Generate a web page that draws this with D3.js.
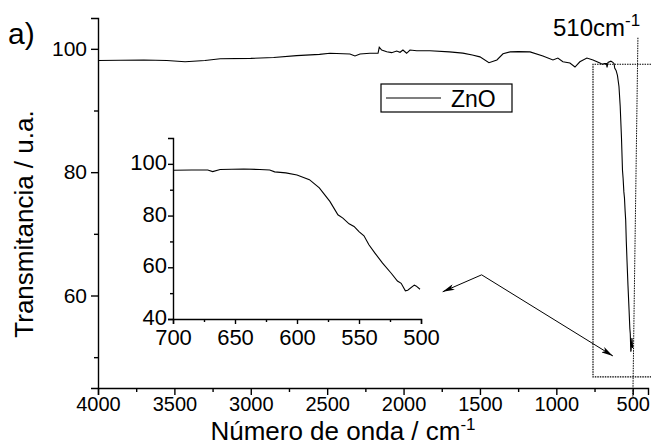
<!DOCTYPE html>
<html lang="en">
<head>
<meta charset="UTF-8">
<title>ZnO FTIR</title>
<script src="https://d3js.org/d3.v7.min.js"></script>
<style>
    body { margin: 0; background: #fff; }
    svg { display: block; font-family: "Liberation Sans", Arial, sans-serif; }
    .axis path, .axis line { stroke: #000; stroke-width: 1.4; }
    .axis text { fill: #000; font-family: "Liberation Sans", Arial, sans-serif; }
</style>
</head>
<body>
<svg id="chart" width="651" height="446"></svg>
<script>
// main spectrum, 4000 -> 715 cm-1
const mainWn = [4000, 3850, 3700, 3550, 3430, 3300, 3200, 3000, 2850, 2700, 2550, 2482, 2351, 2318, 2285, 2220, 2167,
    2159, 2143, 2110, 2078, 2045, 2023, 2004, 1980, 1958, 1914, 1827, 1700, 1612, 1550, 1500, 1441, 1389, 1349,
    1303, 1250, 1172, 1088, 1022, 990, 957, 911, 878, 846, 800, 760, 715];
const mainT = [98.1, 98.15, 98.2, 98.1, 97.9, 98.1, 98.4, 98.45, 98.6, 98.9, 99.1, 99.28, 99.17, 98.84, 99.17, 99.28, 99.28,
    100.25, 99.81, 99.54, 99.38, 99.65, 99.44, 99.81, 99.28, 99.81, 99.7, 99.7, 99.5, 99.3, 99.0, 98.7, 97.75, 98.2, 99.2,
    99.5, 99.55, 99.5, 98.85, 98.2, 98.5, 97.9, 97.7, 97.05, 97.9, 98.5, 98.2, 97.7];

// zoomed region 700 -> 500 cm-1 (also the end of the main trace)
const zoomWn = [700, 685, 672, 668, 662, 643, 630, 622, 618, 609, 600, 590, 582, 573.5, 567, 563, 558, 554, 550,
    546, 542, 537, 531, 524, 519, 516, 512.6, 510.7, 505.4, 504, 500.8];
const zoomT = [97.5, 97.6, 97.6, 97.0, 97.8, 98.0, 97.8, 97.6, 96.9, 96.5, 95.7, 93.9, 90.7, 85.5, 80.3, 79.0, 76.8, 75.8, 73.8,
    72.2, 68.7, 65.4, 61.6, 57.7, 54.7, 53.8, 50.9, 51.1, 53.1, 52.8, 51.5];

const xTicks = [4000, 3500, 3000, 2500, 2000, 1500, 1000, 500];
const xMinor = [3750, 3250, 2750, 2250, 1750, 1250, 750];
const yTicks = [60, 80, 100];
const yMinor = [50, 70, 90];
const inXTicks = [700, 650, 600, 550, 500];
const inXMinor = [675, 625, 575, 525];
const inYTicks = [40, 60, 80, 100];
const inYMinor = [50, 70, 90];

// annotations, in main-plot units
const boxWn = [760, 380], boxT = [46.8, 97.5];
const markWn = [466, 499], markT = [101.8, 43.6];
const arrowFrom = [1489, 63.35];
const arrowTo = [[1744, 60.6], [630, 50.2]];

const svg = d3.select("#chart");
const fmt = d3.format("d");

const x = d3.scaleLinear().domain([4000, 400]).range([98, 648]);
const y = d3.scaleLinear().domain([45, 105]).range([388, 18]);

const line = d3.line().x(d => x(d[0])).y(d => y(d[1]));
const full = mainWn.map((w, i) => [w, mainT[i]]).concat(zoomWn.map((w, i) => [w, zoomT[i]]));

// arrow head
svg.append("defs").append("marker")
    .attr("id", "head").attr("viewBox", "0 0 12 6").attr("refX", 12).attr("refY", 3)
    .attr("markerWidth", 12).attr("markerHeight", 6).attr("markerUnits", "userSpaceOnUse")
    .attr("orient", "auto")
    .append("path").attr("d", "M0,0L12,3L0,6L3,3Z").attr("fill", "#000");

// main axes
svg.append("g").attr("class", "axis").attr("transform", "translate(0,388)")
    .call(d3.axisBottom(x).tickValues(xMinor).tickSize(4).tickFormat(""))
    .call(g => g.select(".domain").remove());
svg.append("g").attr("class", "axis").attr("transform", "translate(0,388)")
    .call(d3.axisBottom(x).tickValues(xTicks).tickFormat(fmt).tickSizeOuter(0).tickSize(7).tickPadding(2))
    .call(g => g.selectAll("text").attr("font-size", 20));
svg.append("g").attr("class", "axis").attr("transform", "translate(98,0)")
    .call(d3.axisLeft(y).tickValues(yMinor).tickSize(4).tickFormat(""))
    .call(g => g.select(".domain").remove());
svg.append("g").attr("class", "axis").attr("transform", "translate(98,0)")
    .call(d3.axisLeft(y).tickValues(yTicks).tickFormat(fmt).tickSizeOuter(0).tickSize(7).tickPadding(4))
    .call(g => g.selectAll("text").attr("font-size", 21));

// dotted frame around 760-400 region and the 510 marker
svg.append("path")
    .attr("d", `M${x(boxWn[1])},${y(boxT[1])}H${x(boxWn[0])}V${y(boxT[0])}H${x(boxWn[1])}`)
    .attr("fill", "none").attr("stroke", "#000").attr("stroke-width", 1.2).attr("stroke-dasharray", "1.5,1");
svg.append("line")
    .attr("x1", x(markWn[0])).attr("y1", y(markT[0])).attr("x2", x(markWn[1])).attr("y2", y(markT[1]))
    .attr("stroke", "#000").attr("stroke-width", 1).attr("stroke-dasharray", "1.5,1");

svg.append("path").datum(full).attr("d", line)
    .attr("fill", "none").attr("stroke", "#000").attr("stroke-width", 1.1);

// inset
const ix = d3.scaleLinear().domain([700, 500]).range([173, 421]);
const iy = d3.scaleLinear().domain([40, 110]).range([319, 138]);
svg.append("g").attr("class", "axis").attr("transform", "translate(0,319)")
    .call(d3.axisBottom(ix).tickValues(inXMinor).tickSize(3).tickFormat(""))
    .call(g => g.select(".domain").remove());
svg.append("g").attr("class", "axis").attr("transform", "translate(0,319)")
    .call(d3.axisBottom(ix).tickValues(inXTicks).tickFormat(fmt).tickSizeOuter(0).tickSize(5).tickPadding(5))
    .call(g => g.selectAll("text").attr("font-size", 22));
svg.append("g").attr("class", "axis").attr("transform", "translate(173,0)")
    .call(d3.axisLeft(iy).tickValues(inYMinor).tickSize(3).tickFormat(""))
    .call(g => g.select(".domain").remove());
svg.append("g").attr("class", "axis").attr("transform", "translate(173,0)")
    .call(d3.axisLeft(iy).tickValues(inYTicks).tickFormat(fmt).tickSizeOuter(0).tickSize(5).tickPadding(1))
    .call(g => g.selectAll("text").attr("font-size", 22).attr("dy", "0.25em"));
svg.append("path").datum(zoomWn.map((w, i) => [w, zoomT[i]]))
    .attr("d", d3.line().x(d => ix(d[0])).y(d => iy(d[1])))
    .attr("fill", "none").attr("stroke", "#000").attr("stroke-width", 1.1);

// arrows
arrowTo.forEach(t => {
    svg.append("line")
        .attr("x1", x(arrowFrom[0])).attr("y1", y(arrowFrom[1]))
        .attr("x2", x(t[0])).attr("y2", y(t[1]))
        .attr("stroke", "#000").attr("stroke-width", 1).attr("marker-end", "url(#head)");
});

// legend
const lg = svg.append("g").attr("transform", "translate(381,84)");
lg.append("rect").attr("width", 131).attr("height", 28)
    .attr("fill", "#fff").attr("stroke", "#000").attr("stroke-width", 1.2);
lg.append("line").attr("x1", 5).attr("x2", 60).attr("y1", 14).attr("y2", 14)
    .attr("stroke", "#000").attr("stroke-width", 1.1);
lg.append("text").attr("x", 70).attr("y", 23).attr("font-size", 23).text("ZnO");

// labels
svg.append("text").attr("x", 8).attr("y", 44).attr("font-size", 30).text("a)");
svg.append("text").attr("x", 553).attr("y", 36).attr("font-size", 24)
    .text("510cm").append("tspan").attr("dy", -10).attr("font-size", 17).text("-1");
svg.append("text").attr("transform", "translate(33,224) rotate(-90)")
    .attr("text-anchor", "middle").attr("font-size", 26).text("Transmitancia / u.a.");
const xt = svg.append("text").attr("x", 343).attr("y", 440).attr("text-anchor", "middle").attr("font-size", 26);
xt.append("tspan").text("Número de onda / cm");
xt.append("tspan").attr("dy", -10).attr("font-size", 17).text("-1");
</script>
</body>
</html>
